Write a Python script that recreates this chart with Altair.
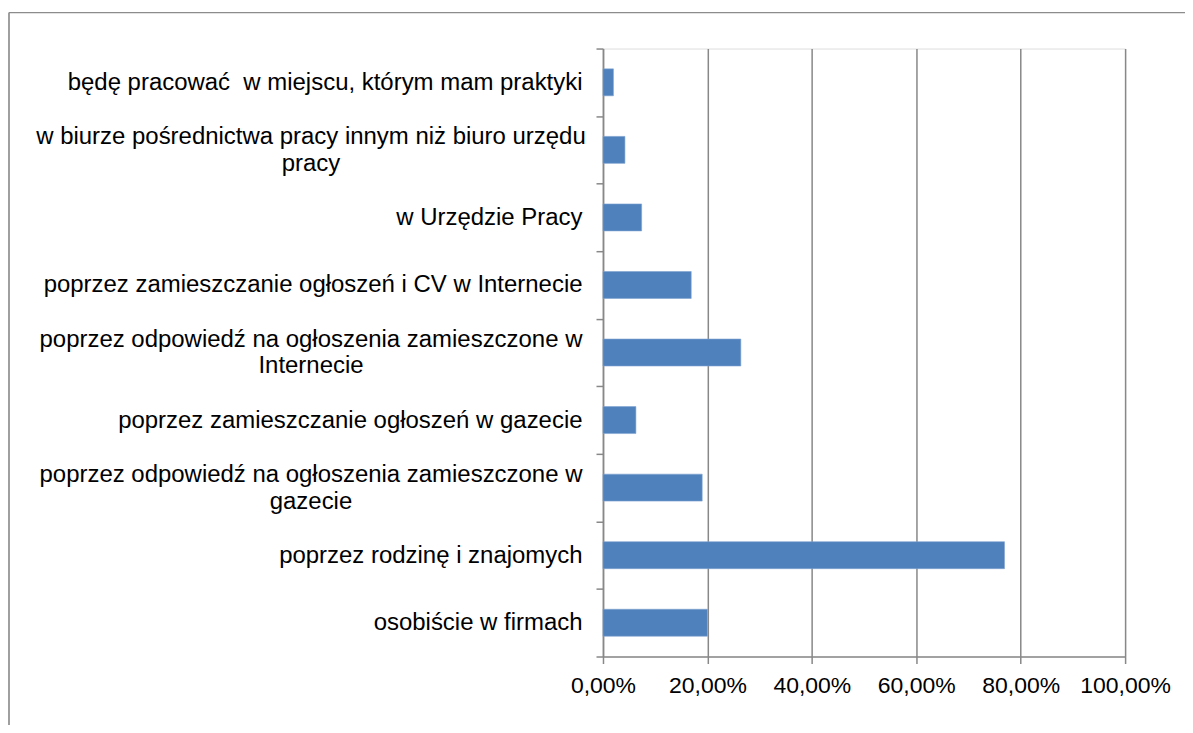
import altair as alt
import pandas as pd

categories = [
    "będę pracować  w miejscu, którym mam praktyki",
    "w biurze pośrednictwa pracy innym niż biuro urzędu\npracy",
    "w Urzędzie Pracy",
    "poprzez zamieszczanie ogłoszeń i CV w Internecie",
    "poprzez odpowiedź na ogłoszenia zamieszczone w\nInternecie",
    "poprzez zamieszczanie ogłoszeń w gazecie",
    "poprzez odpowiedź na ogłoszenia zamieszczone w\ngazecie",
    "poprzez rodzinę i znajomych",
    "osobiście w firmach",
]
values = [0.020, 0.042, 0.074, 0.169, 0.264, 0.063, 0.190, 0.769, 0.200]
x_ticks = [0.0, 0.2, 0.4, 0.6, 0.8, 1.0]

df = pd.DataFrame({"kategoria": categories, "wartosc": values})

GRAY = "#888888"
FONT = "Liberation Sans"
MULTI = "indexof(datum.label, '\\n') >= 0"

bars = alt.Chart(df).mark_bar(size=27, color="#4F81BD", stroke="#7FA3D0", strokeWidth=0.6).encode(
    y=alt.Y(
        "kategoria:N",
        sort=categories,
        scale=alt.Scale(paddingInner=0, paddingOuter=0),
        axis=alt.Axis(
            title=None,
            labelExpr="split(replace(datum.label, '  ', ' \u00a0'), '\\n')",
            labelFontSize=24,
            labelFont=FONT,
            labelColor="#000000",
            labelLineHeight=27,
            labelAlign=alt.condition(MULTI, alt.value("center"), alt.value("right")),
            labelPadding=alt.condition(MULTI, alt.value(286), alt.value(14)),
            labelOffset=alt.condition(MULTI, alt.value(-13.5), alt.value(0)),
            labelLimit=700,
            tickSize=7,
            tickColor=GRAY,
            tickWidth=1.5,
            tickBand="extent",
            domainColor=GRAY,
            domainWidth=1.5,
            grid=False,
        ),
    ),
    x=alt.X(
        "wartosc:Q",
        scale=alt.Scale(domain=[0, 1], nice=False),
        axis=alt.Axis(
            title=None,
            values=x_ticks,
            labelExpr="replace(format(datum.value, '.2%'), '.', ',')",
            labelFontSize=23,
            labelFont=FONT,
            labelColor="#000000",
            labelPadding=11,
            labelFlush=False,
            tickSize=7,
            tickColor=GRAY,
            tickWidth=1.5,
            domainColor=GRAY,
            domainWidth=1.5,
            grid=True,
            gridColor=GRAY,
            gridWidth=1.5,
        ),
    ),
)

frame_df = pd.DataFrame({"f": [0]})
frame_left = alt.Chart(frame_df).mark_rule(color="#888888", strokeWidth=1.6).encode(
    x=alt.value(-595), y=alt.value(-36), y2=alt.value(740)
)
frame_top = alt.Chart(frame_df).mark_rule(color="#8c8c8c", strokeWidth=1.2).encode(
    x=alt.value(-595), x2=alt.value(640), y=alt.value(-36)
)

chart = alt.layer(bars, frame_left, frame_top).properties(
    width=523,
    height=609,
    autosize=alt.AutoSizeParams(type="none"),
    padding={"left": 596, "top": 40, "right": 60, "bottom": 68},
).configure_view(stroke=None).configure(background="white")

chart.save("out.html", embed_options={"renderer": "svg", "actions": False})
